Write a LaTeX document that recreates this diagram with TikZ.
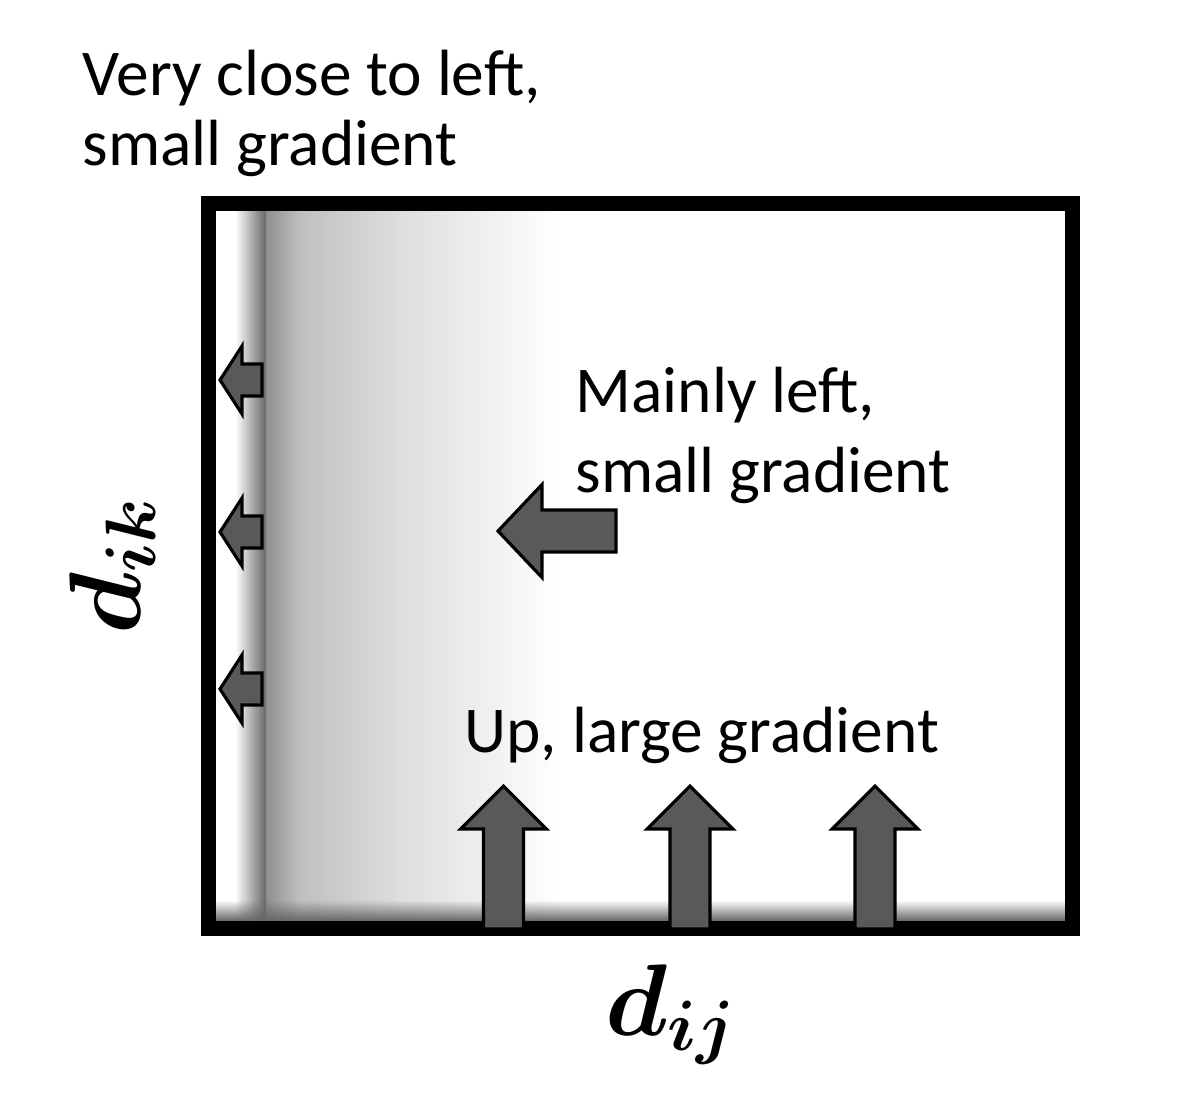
\RequirePackage{fix-cm}
\documentclass[tikz,border=0pt]{standalone}
\usepackage{fontspec}
\setmainfont{Carlito}
\usetikzlibrary{fadings}
\tikzset{blockarrow/.style={fill=black!65,draw=black,line width=0.9pt,line join=miter},
plaintext/.style={font=\fontsize{18.6}{19.9}\selectfont,align=left,anchor=base west,inner sep=0pt},
mathtext/.style={font=\boldmath\fontsize{29}{35}\selectfont,anchor=base west,inner sep=0pt}}
\begin{document}
\begin{tikzpicture}
\useasboundingbox(0,0)rectangle(12.04,-11.10);
%shading
\shade[left color=white,right color=black!60](2.35,-2.10)rectangle(2.66,-9.21);
\shade[left color=black!44,right color=black!25](2.66,-2.10)rectangle(3.0,-9.21);
\shade[left color=black!25,right color=black!13](3.0,-2.10)rectangle(4.0,-9.21);
\shade[left color=black!13,right color=white](4.0,-2.10)rectangle(5.6,-9.21);
\fill[black!60,path fading=north](2.15,-9.0)rectangle(10.65,-9.21);
%frame
\draw[line width=0.15cm](2.08,-2.03)rectangle(10.72,-9.28);
%arrows
\foreach \y in {-3.80,-5.32,-6.89}
 \draw[blockarrow](2.20,\y)--++(0.22,0.34)--++(0,-0.18)--++(0.20,0)--++(0,-0.32)--++(-0.20,0)--++(0,-0.18)--cycle;
\draw[blockarrow](4.98,-5.31)--++(0.44,0.465)--++(0,-0.255)--++(0.74,0)--++(0,-0.42)--++(-0.74,0)--++(0,-0.255)--cycle;
\foreach \x in {5.035,6.90,8.75}
 \draw[blockarrow](\x,-7.86)--++(0.43,-0.43)--++(-0.23,0)--++(0,-1.0)--++(-0.40,0)--++(0,1.0)--++(-0.23,0)--cycle;
%labels
\node[plaintext](closeleft)at(0.82,-1.65){Very close to left,\\small gradient};
\node[plaintext,font=\fontsize{18.6}{22.7}\selectfont](mainlyleft)at(5.75,-4.92){Mainly left,\\small gradient};
\node[plaintext](upgrad)at(4.64,-7.52){Up, large gradient};
\node[mathtext](dij)at(6.05,-10.35){$d_{ij}$};
\node[mathtext,rotate=90](dik)at(1.40,-6.35){$d_{ik}$};
\end{tikzpicture}
\end{document}
